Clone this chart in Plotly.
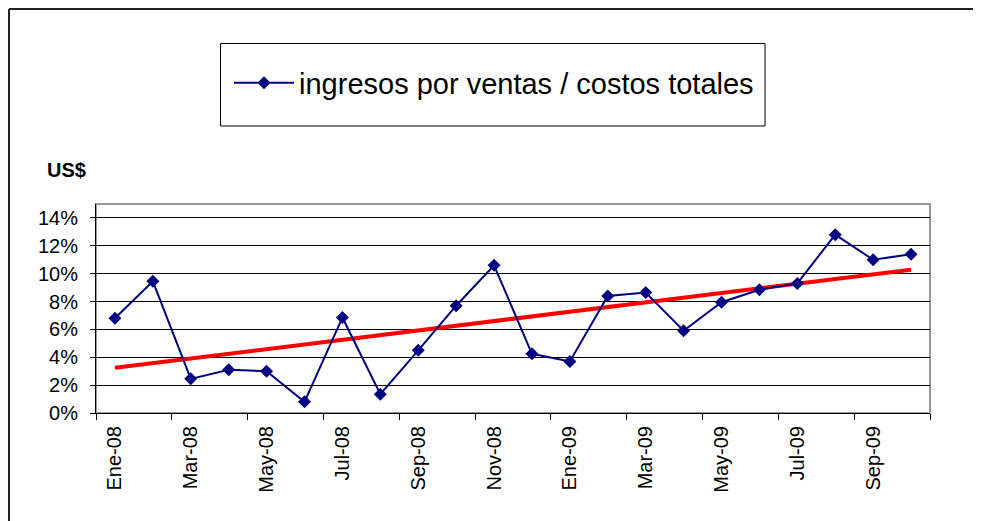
import numpy as np
import plotly.graph_objects as go

# ---- data ----
months = ["Ene-08", "Feb-08", "Mar-08", "Abr-08", "May-08", "Jun-08", "Jul-08", "Ago-08",
          "Sep-08", "Oct-08", "Nov-08", "Dic-08", "Ene-09", "Feb-09", "Mar-09", "Abr-09",
          "May-09", "Jun-09", "Jul-09", "Ago-09", "Sep-09", "Oct-09"]
ratio_pct = [6.8, 9.45, 2.45, 3.1, 3.0, 0.8, 6.85, 1.35, 4.5, 7.7, 10.6, 4.25,
             3.7, 8.4, 8.65, 5.9, 7.95, 8.85, 9.3, 12.8, 11.0, 11.4]
series_name = "ingresos por ventas / costos totales"
y_title = "US$"
y_ticks = [0, 2, 4, 6, 8, 10, 12, 14]
y_ticktext = ["0%", "2%", "4%", "6%", "8%", "10%", "12%", "14%"]

# linear trend (least squares, like Excel's trendline)
idx = np.arange(len(ratio_pct))
slope, intercept = np.polyfit(idx, ratio_pct, 1)
trend = (slope * idx + intercept).tolist()

FONT = "Arial, Liberation Sans, sans-serif"

fig = go.Figure()
fig.add_trace(go.Scatter(
    x=months, y=trend, mode="lines", showlegend=False,
    line=dict(color="#FF0000", width=4), hoverinfo="skip"))
fig.add_trace(go.Scatter(
    x=months, y=ratio_pct, mode="lines+markers", name=series_name,
    line=dict(color="#000080", width=2),
    marker=dict(symbol="diamond", size=10, color="#000080")))

fig.update_layout(
    width=973, height=513,
    margin=dict(l=88, r=51, t=196, b=108),
    paper_bgcolor="white", plot_bgcolor="white",
    font=dict(family=FONT, size=20, color="black"),
    showlegend=True,
    legend=dict(x=0.1595, y=1.579, xanchor="left", yanchor="middle",
                bgcolor="rgba(0,0,0,0)", borderwidth=0,
                font=dict(size=29, family=FONT), itemwidth=60),
    xaxis=dict(type="category", categoryorder="array", categoryarray=months,
               range=[-0.5, len(months) - 0.5],
               tickmode="linear", tick0=0, dtick=2, tickson="boundaries",
               ticks="outside", ticklen=6, tickcolor="black", tickwidth=1,
               tickangle=-90, showgrid=False, showline=True, linecolor="black",
               linewidth=1, zeroline=False, ticklabelstandoff=4,
               tickfont=dict(size=20, family=FONT)),
    yaxis=dict(range=[0, 15], tickmode="array", tickvals=y_ticks,
               ticktext=y_ticktext, ticks="outside", ticklen=5, tickcolor="black",
               showgrid=True, gridcolor="black", gridwidth=1,
               showline=True, linecolor="black", linewidth=1, zeroline=False,
               ticklabelstandoff=8, tickfont=dict(size=20, family=FONT)),
    shapes=[
        # plot area border (gray top/right)
        dict(type="rect", xref="paper", yref="paper", x0=0, x1=1, y0=0, y1=1,
             line=dict(color="#999999", width=2), layer="below"),
        # outer chart frame (top and left edges visible)
        dict(type="line", xref="paper", yref="paper", x0=-0.1043, x1=1.07,
             y0=1.933, y1=1.933, line=dict(color="#222222", width=2)),
        dict(type="line", xref="paper", yref="paper", x0=-0.1043, x1=-0.1043,
             y0=1.933, y1=-0.53, line=dict(color="#222222", width=2)),
        # legend box
        dict(type="rect", xref="paper", yref="paper", x0=0.1493, x1=0.8022,
             y0=1.3732, y1=1.768, line=dict(color="black", width=1)),
    ],
    annotations=[
        dict(text="<b>" + y_title + "</b>", xref="paper", yref="paper",
             x=(88 - 96) / 834, y=(413 - 170) / 209, xanchor="right",
             yanchor="middle", showarrow=False, font=dict(size=20, family=FONT)),
    ],
)

fig.write_html("out.html")
